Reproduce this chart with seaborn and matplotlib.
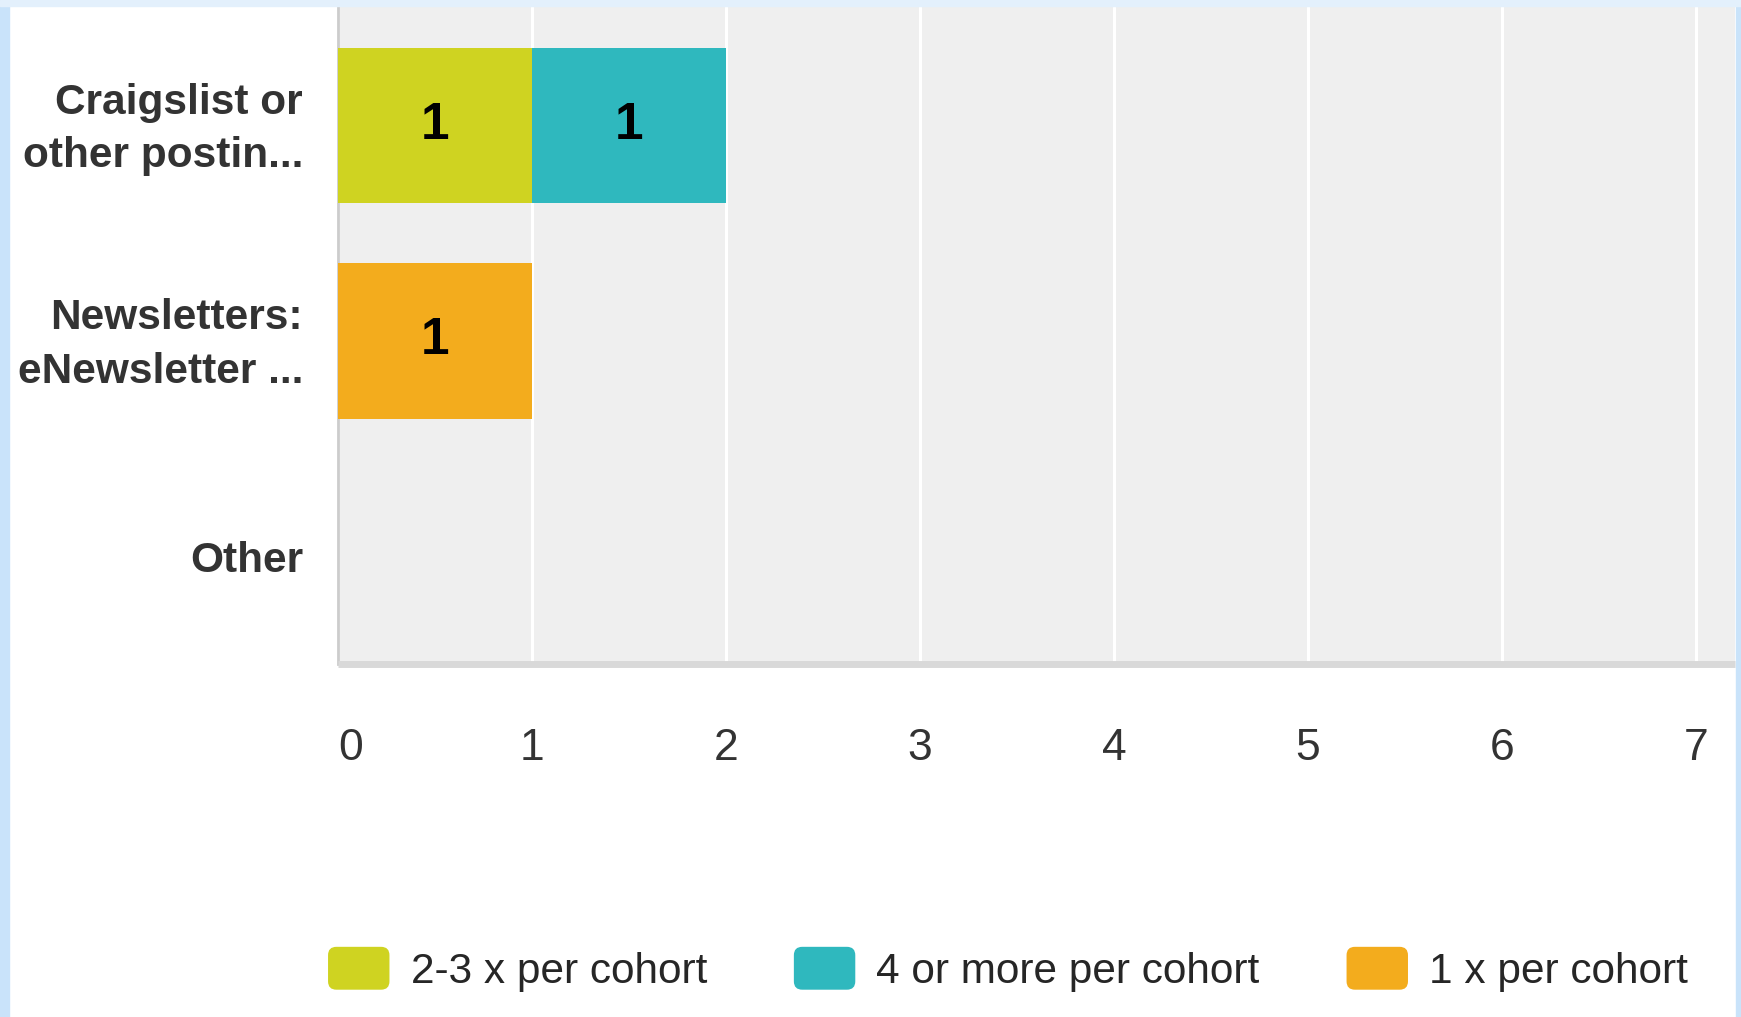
import numpy as np
import pandas as pd
import matplotlib
matplotlib.use("Agg")
import matplotlib.pyplot as plt
import matplotlib.transforms as mtransforms
from matplotlib.patches import FancyBboxPatch, Patch, Rectangle
from matplotlib.legend_handler import HandlerPatch
import seaborn as sns

# data
sources = ["Craigslist or\nother postin...", "Newsletters:\neNewsletter ...", "Other"]
series_names = ["2-3 x per cohort", "4 or more per cohort", "1 x per cohort"]
two_three = [1, 0, 0]
four_more = [1, 0, 0]
once = [0, 1, 0]
series_colors = ["#CFD321", "#2FB8BE", "#F3AC1D"]
xticks = [0, 1, 2, 3, 4, 5, 6, 7]

sns.set_theme(style="white")
plt.rcParams["font.family"] = ["Liberation Sans", "DejaVu Sans"]

df = pd.DataFrame({"source": sources, series_names[0]: two_three,
                   series_names[1]: four_more, series_names[2]: once})
vals = df[series_names].to_numpy(dtype=float)
cum = vals.cumsum(axis=1)

fig = plt.figure(figsize=(17.41, 10.17), dpi=100)
fig.patch.set_facecolor("white")
ax = fig.add_axes([0.194, 0.347, 0.8025, 0.646])
ax.set_facecolor("#EFEFEF")

# stacked bars: draw cumulative totals back to front
for i in reversed(range(len(series_names))):
    sns.barplot(x=cum[:, i], y=df["source"], color=series_colors[i], orient="h",
                width=0.72, ax=ax, saturation=1, linewidth=0, zorder=3)

for r in range(len(sources)):
    for i in range(len(series_names)):
        v = vals[r, i]
        if v > 0:
            ax.text(cum[r, i] - v / 2, r, f"{int(v)}", ha="center", va="center",
                    fontsize=37, fontweight="bold", color="black", zorder=5)

ax.set_xlim(0, 7.2)
ax.set_ylim(2.5, -0.55)
ax.set_xticks(xticks)
ax.set_xticklabels([str(t) for t in xticks])
ax.xaxis.grid(True, color="white", linewidth=2.2, zorder=1)
ax.set_axisbelow(True)
ax.set_xlabel("")
ax.set_ylabel("")
ax.tick_params(axis="x", length=0, pad=46, labelsize=32, labelcolor="#333333")
ax.tick_params(axis="y", length=0, pad=25, labelsize=30.5, labelcolor="#333333")
for lab in ax.get_yticklabels():
    lab.set_fontweight("bold")
    lab.set_linespacing(1.42)
    if "\n" in lab.get_text():
        lab.set_transform(lab.get_transform() +
                          mtransforms.ScaledTranslation(0, 0.07, fig.dpi_scale_trans))
# the first x label sits a bit right of the axis line
first = ax.get_xticklabels()[0]
first.set_transform(first.get_transform() +
                    mtransforms.ScaledTranslation(0.13, 0, fig.dpi_scale_trans))

for s in ["top", "right"]:
    ax.spines[s].set_visible(False)
ax.spines["left"].set_color("#CCCCCC")
ax.spines["left"].set_linewidth(2)
ax.spines["bottom"].set_color("#D9D9D9")
ax.spines["bottom"].set_linewidth(5)
ax.spines["bottom"].set_capstyle("butt")


def rounded(legend, orig_handle, xdescent, ydescent, width, height, fontsize):
    return FancyBboxPatch((-xdescent, -ydescent), width, height,
                          boxstyle="round,pad=0,rounding_size=6")


handles = [Patch(facecolor=c, edgecolor="none") for c in series_colors]
fig.legend(handles, series_names, loc="center", bbox_to_anchor=(0.579, 0.047),
           ncol=3, frameon=False, fontsize=30.5, handlelength=1.45, handleheight=1.18,
           handletextpad=0.5, columnspacing=2.05,
           handler_map={Patch: HandlerPatch(patch_func=rounded)})

# light blue frame of the screenshot
frame = "#C9E3FA"
fig.patches.append(Rectangle((0, 0), 9 / 1741, 1, transform=fig.transFigure,
                             color=frame, zorder=10))
fig.patches.append(Rectangle((1 - 5 / 1741, 0), 5 / 1741, 1, transform=fig.transFigure,
                             color=frame, zorder=10))
fig.patches.append(Rectangle((0, 1 - 6 / 1017), 1, 6 / 1017, transform=fig.transFigure,
                             color="#E3F0FC", zorder=10))

fig.savefig("out.png", dpi=100)
